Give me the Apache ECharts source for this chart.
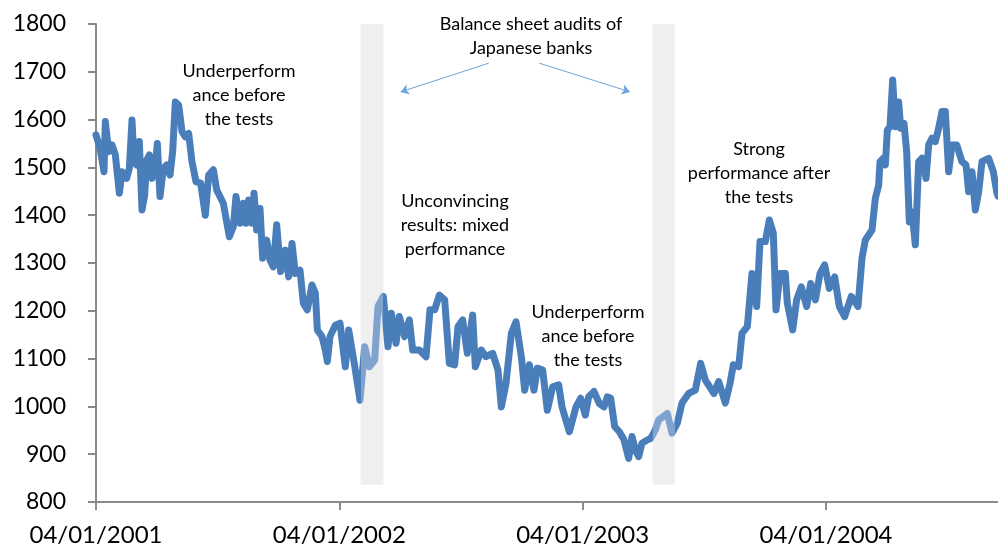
<!DOCTYPE html>
<html><head><meta charset="utf-8">
<script src="https://cdn.jsdelivr.net/npm/echarts@6/dist/echarts.min.js"></script>
<style>html,body{margin:0;padding:0;background:#fff}#c{width:998px;height:547px}</style>
</head><body><div id="c"></div>
<script>
// days since 04/01/2001
const dayOffsets = [
  0,6,12,14,19,24,29,35,39,46,50,54,57,61,65,69,73,76,80,84,89,92,96,101,106,111,115,119,124,129,
  134,139,144,150,157,164,169,176,181,191,200,206,210,216,221,225,229,234,237,241,246,250,256,261,266,271,277,284,289,294,
  299,306,311,317,324,329,332,339,344,347,351,359,366,374,379,
  388,396,403,410,418,423,431,438,443,450,455,463,470,475,485,495,501,508,515,523,
  530,538,543,550,557,565,569,578,585,595,603,608,615,623,630,638,643,650,657,662,
  670,677,685,694,699,710,720,727,734,739,747,755,762,767,772,778,785,792,799,804,
  809,814,819,827,832,839,844,857,864,872,879,889,899,907,914,927,934,944,951,956,
  964,969,977,984,991,996,1004,1010,1016,1020,1026,1034,1037,1045,1051,1058,1066,1072,1079,1086,
  1093,1100,1108,1115,1123,1133,1143,
  1149,1154,1164,1169,1174,1176,1181,1184,1187,1191,1195,1199,1204,1207,1212,1216,1220,1224,1229,1234,
  1239,1245,1249,1254,1259,1264,1269,1274,1279,1284,1291,1299,1305,1309,1314,1319,1324,1329,1339,1346,
  1351,1353
];
const indexValues = [
  1568,1540,1491,1596,1533,1547,1526,1446,1491,1477,1498,1599,1512,1505,1554,1411,1442,1515,1526,1477,1505,1550,1439,1498,1505,1484,1533,1637,1630,1575,
  1564,1571,1512,1470,1467,1400,1484,1495,1453,1425,1355,1376,1439,1383,1425,1383,1432,1383,1446,1369,1414,1310,1348,1306,1292,1380,1282,1327,1271,1341,
  1278,1285,1216,1202,1254,1237,1160,1146,1118,1094,1146,1170,1174,1083,1160,
  1085,1013,1125,1083,1097,1209,1230,1125,1195,1132,1188,1146,1181,1118,1118,1104,1202,1202,1233,1223,
  1090,1087,1167,1181,1111,1191,1083,1118,1104,1111,1076,999,1048,1153,1177,1104,1034,1087,1034,1080,
  1076,992,1041,1045,999,947,999,1017,982,1020,1031,1006,999,1020,1017,958,947,930,891,937,
  909,895,923,930,933,951,972,985,944,965,1007,1027,1034,1090,1055,1027,1052,1007,1048,1087,
  1083,1153,1167,1278,1209,1345,1345,1390,1362,1202,1278,1278,1216,1160,1223,1250,1209,1257,1223,1278,
  1296,1247,1271,1209,1188,1230,1209,
  1310,1348,1369,1435,1463,1512,1519,1505,1578,1585,1683,1585,1637,1582,1592,1533,1386,1407,1338,1512,
  1519,1477,1547,1561,1554,1582,1617,1617,1491,1547,1547,1512,1505,1449,1491,1411,1449,1512,1519,1491,
  1449,1440
];
const xTickLabels = ['04/01/2001','04/01/2002','04/01/2003','04/01/2004'];
const auditPeriods = [[397,431],[835,868]];
const annotationTexts = [
  'Underperform\nance before\nthe tests',
  'Balance sheet audits of\nJapanese banks',
  'Unconvincing\nresults: mixed\nperformance',
  'Underperform\nance before\nthe tests',
  'Strong\nperformance after\nthe tests'
];

const DARK = '#4a7ebb', LIGHT = '#7fa3ce';
const FONT = 'Lato, "Open Sans", sans-serif';
const seriesData = dayOffsets.map((d, i) => [d, indexValues[i]]);

const pieces = [];
let prev = -Infinity;
auditPeriods.forEach(p => {
  pieces.push({gte: prev, lt: p[0], color: DARK});
  pieces.push({gte: p[0], lt: p[1], color: LIGHT});
  prev = p[1];
});
pieces.push({gte: prev, color: DARK});

const annotPos = [[239,59],[531,12],[455,189],[588,300],[759,137]];

const chart = echarts.init(document.getElementById('c'), null, {renderer: 'canvas'});
chart.setOption({
  animation: false,
  backgroundColor: '#fff',
  grid: {left: 96, right: 0, top: 24, bottom: 45, containLabel: false},
  xAxis: {
    type: 'value', min: 0, max: 1353, interval: 365,
    axisLine: {show: true, lineStyle: {color: '#8a8a8a', width: 2}},
    axisTick: {show: true, length: 8, lineStyle: {color: '#8a8a8a', width: 2}},
    splitLine: {show: false},
    axisLabel: {margin: 21, color: '#000', fontFamily: FONT, fontSize: 24, showMaxLabel: false,
      formatter: v => xTickLabels[Math.round(v / 365)] || ''}
  },
  yAxis: {
    type: 'value', min: 800, max: 1800, interval: 100,
    axisLine: {show: true, lineStyle: {color: '#8a8a8a', width: 2}},
    axisTick: {show: true, length: 8, lineStyle: {color: '#8a8a8a', width: 2}},
    splitLine: {show: false},
    axisLabel: {margin: 30, color: '#000', fontFamily: FONT, fontSize: 23, formatter: v => String(v)}
  },
  visualMap: {type: 'piecewise', show: false, dimension: 0, seriesIndex: 0, pieces: pieces},
  series: [
    {
      type: 'line', data: seriesData, showSymbol: false, symbol: 'none', z: 3,
      lineStyle: {width: 7, join: 'round', cap: 'round'}
    },
    {
      type: 'line', data: [], silent: true, clip: false, z: 1,
      markArea: {
        silent: true,
        itemStyle: {color: '#efefef', borderRadius: 4},
        data: auditPeriods.map(p => [{xAxis: p[0], yAxis: 1812}, {xAxis: p[1], yAxis: 836}])
      },
      markLine: {
        silent: true, symbolSize: 8, animation: false,
        label: {show: false},
        lineStyle: {color: '#6fa3dc', width: 1, type: 'solid'},
        data: [
          [{coord: [589, 1718], symbol: 'none'}, {coord: [457, 1658], symbol: 'arrow'}],
          [{coord: [665, 1718], symbol: 'none'}, {coord: [801, 1658], symbol: 'arrow'}]
        ]
      }
    }
  ],
  graphic: annotationTexts.map((t, i) => ({
    type: 'text', x: annotPos[i][0], y: annotPos[i][1], z: 10,
    style: {text: t, fill: '#000', font: '18px ' + FONT, align: 'center', verticalAlign: 'top', lineHeight: 24}
  }))
});
</script></body></html>
